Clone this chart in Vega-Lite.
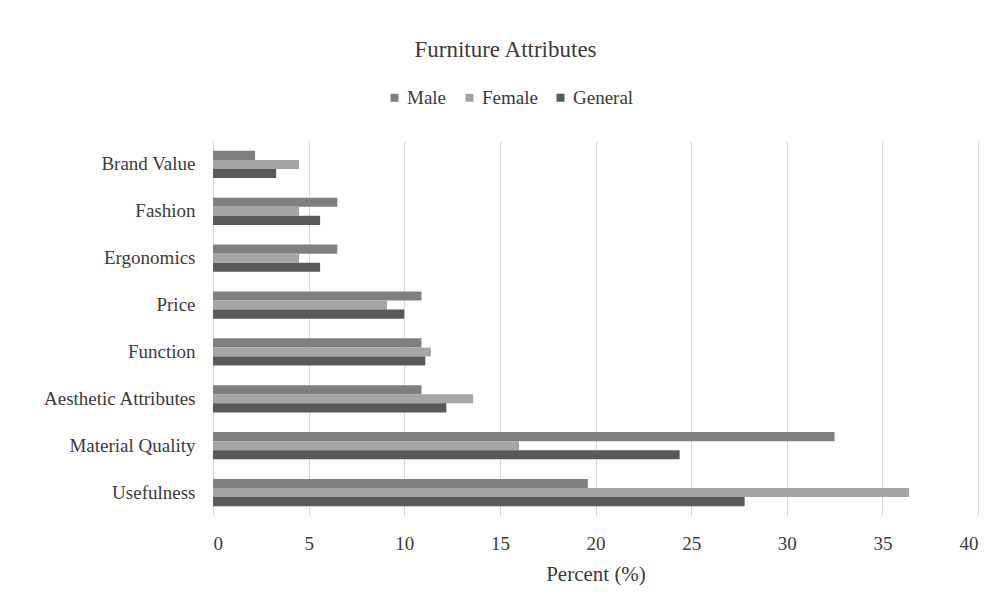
{
  "$schema": "https://vega.github.io/schema/vega-lite/v6.json",
  "autosize": "none",
  "width": 765,
  "height": 375,
  "padding": {"left": 213, "top": 141, "right": 25, "bottom": 90},
  "background": "white",
  "title": {
    "text": "Furniture Attributes",
    "font": "'Times New Roman', 'Liberation Serif', 'DejaVu Serif', serif",
    "fontSize": 23,
    "fontWeight": "normal",
    "color": "#3a3a3a",
    "anchor": "middle",
    "dx": -90,
    "offset": 26
  },
  "data": {
    "values": [
      {"attribute": "Brand Value", "group": "Male", "percent": 2.2},
      {"attribute": "Brand Value", "group": "Female", "percent": 4.5},
      {"attribute": "Brand Value", "group": "General", "percent": 3.3},
      {"attribute": "Fashion", "group": "Male", "percent": 6.5},
      {"attribute": "Fashion", "group": "Female", "percent": 4.5},
      {"attribute": "Fashion", "group": "General", "percent": 5.6},
      {"attribute": "Ergonomics", "group": "Male", "percent": 6.5},
      {"attribute": "Ergonomics", "group": "Female", "percent": 4.5},
      {"attribute": "Ergonomics", "group": "General", "percent": 5.6},
      {"attribute": "Price", "group": "Male", "percent": 10.9},
      {"attribute": "Price", "group": "Female", "percent": 9.1},
      {"attribute": "Price", "group": "General", "percent": 10.0},
      {"attribute": "Function", "group": "Male", "percent": 10.9},
      {"attribute": "Function", "group": "Female", "percent": 11.4},
      {"attribute": "Function", "group": "General", "percent": 11.1},
      {"attribute": "Aesthetic Attributes", "group": "Male", "percent": 10.9},
      {"attribute": "Aesthetic Attributes", "group": "Female", "percent": 13.6},
      {"attribute": "Aesthetic Attributes", "group": "General", "percent": 12.2},
      {"attribute": "Material Quality", "group": "Male", "percent": 32.5},
      {"attribute": "Material Quality", "group": "Female", "percent": 16.0},
      {"attribute": "Material Quality", "group": "General", "percent": 24.4},
      {"attribute": "Usefulness", "group": "Male", "percent": 19.6},
      {"attribute": "Usefulness", "group": "Female", "percent": 36.4},
      {"attribute": "Usefulness", "group": "General", "percent": 27.8}
    ]
  },
  "mark": {"type": "bar"},
  "encoding": {
    "y": {
      "field": "attribute",
      "type": "nominal",
      "sort": ["Brand Value", "Fashion", "Ergonomics", "Price", "Function", "Aesthetic Attributes", "Material Quality", "Usefulness"],
      "scale": {"paddingInner": 0.42, "paddingOuter": 0.21},
      "axis": {
        "title": null,
        "domain": false,
        "ticks": false,
        "labelFont": "'Times New Roman', 'Liberation Serif', 'DejaVu Serif', serif",
        "labelFontSize": 19,
        "labelColor": "#3a3a3a",
        "labelPadding": 18
      }
    },
    "yOffset": {
      "field": "group",
      "type": "nominal",
      "sort": ["Male", "Female", "General"]
    },
    "x": {
      "field": "percent",
      "type": "quantitative",
      "scale": {"domain": [0, 40], "nice": false},
      "axis": {
        "title": "Percent (%)",
        "values": [0, 5, 10, 15, 20, 25, 30, 35, 40],
        "domain": false,
        "ticks": false,
        "grid": true,
        "gridColor": "#d9d9d9",
        "gridWidth": 1,
        "labelFont": "'Times New Roman', 'Liberation Serif', 'DejaVu Serif', serif",
        "labelFontSize": 19,
        "labelColor": "#3a3a3a",
        "labelPadding": 18,
        "titleFont": "'Times New Roman', 'Liberation Serif', 'DejaVu Serif', serif",
        "titleFontSize": 21,
        "titleFontWeight": "normal",
        "titleColor": "#3a3a3a",
        "titlePadding": 10
      }
    },
    "color": {
      "field": "group",
      "type": "nominal",
      "sort": ["Male", "Female", "General"],
      "scale": {"domain": ["Male", "Female", "General"], "range": ["#7f7f7f", "#a5a5a5", "#595959"]},
      "legend": {
        "title": null,
        "orient": "none",
        "direction": "horizontal",
        "legendX": 172,
        "legendY": -53,
        "symbolType": "square",
        "symbolSize": 64,
        "symbolStrokeWidth": 0,
        "labelFont": "'Times New Roman', 'Liberation Serif', 'DejaVu Serif', serif",
        "labelFontSize": 19,
        "labelColor": "#3a3a3a",
        "labelOffset": 3,
        "columnPadding": 13
      }
    }
  },
  "config": {
    "view": {"stroke": null}
  }
}
